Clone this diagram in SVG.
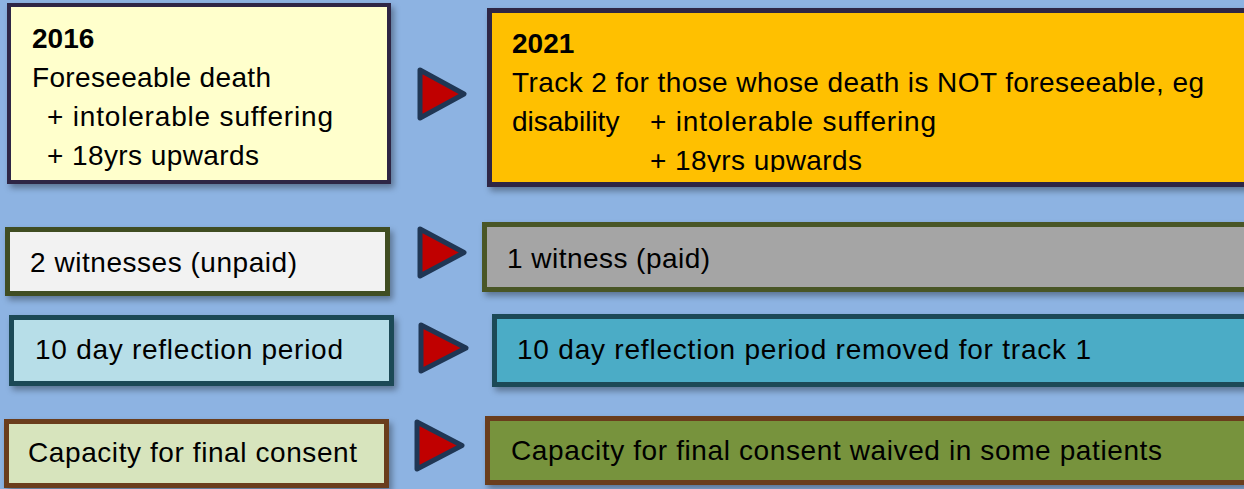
<svg xmlns="http://www.w3.org/2000/svg" width="1244" height="489" viewBox="0 0 1244 489">
<defs>
<filter id="sh" x="-10%" y="-20%" width="130%" height="150%">
<feDropShadow dx="3" dy="4" stdDeviation="3" flood-color="#000" flood-opacity="0.35"/>
</filter>
<clipPath id="clip2021"><rect x="490" y="12" width="760" height="160"/></clipPath>
</defs>
<style>
text{font-family:"Liberation Sans",Arial,sans-serif;font-size:28px;fill:#000}
.b{font-weight:bold}
.box{filter:url(#sh)}
.arrow{fill:#C00000;stroke:#1F3654;stroke-width:5;stroke-linejoin:round}
</style>
<rect x="0" y="0" width="1244" height="489" fill="#8DB3E2"/>

<g id="box-2016">
<rect class="box" x="9" y="5" width="380" height="177" fill="#FFFFCC" stroke="#2F2645" stroke-width="4"/>
<text class="b" x="32" y="48">2016</text>
<text x="32" y="87" textLength="239">Foreseeable death</text>
<text x="47" y="126" textLength="286">+ intolerable suffering</text>
<text x="47" y="165" textLength="212">+ 18yrs upwards</text>
</g>

<g id="box-2021">
<rect class="box" x="489.5" y="10.5" width="800" height="174" fill="#FFC000" stroke="#2F2645" stroke-width="5"/>
<g clip-path="url(#clip2021)">
<text class="b" x="512" y="53">2021</text>
<text x="512" y="92" textLength="692">Track 2 for those whose death is NOT foreseeable, eg</text>
<text x="512" y="131">disability</text>
<text x="650" y="131" textLength="286">+ intolerable suffering</text>
<text x="650" y="170" textLength="212">+ 18yrs upwards</text>
</g>
</g>

<g id="witness-old">
<rect class="box" x="7.5" y="229.5" width="380" height="64" fill="#F2F2F2" stroke="#3F4D23" stroke-width="5"/>
<text x="30" y="272" textLength="267">2 witnesses (unpaid)</text>
</g>

<g id="witness-new">
<rect class="box" x="484.5" y="224.5" width="800" height="65" fill="#A5A5A5" stroke="#4A5728" stroke-width="5"/>
<text x="507" y="268" textLength="203">1 witness (paid)</text>
</g>

<g id="reflection-old">
<rect class="box" x="11.5" y="317.5" width="380" height="66" fill="#B7DEE8" stroke="#1F4A56" stroke-width="5"/>
<text x="35" y="359" textLength="308">10 day reflection period</text>
</g>

<g id="reflection-new">
<rect class="box" x="494.5" y="316.5" width="800" height="68" fill="#4BACC6" stroke="#1F4A56" stroke-width="5"/>
<text x="517" y="359" textLength="574">10 day reflection period removed for track 1</text>
</g>

<g id="capacity-old">
<rect class="box" x="6.5" y="421.5" width="380" height="64" fill="#D7E4BD" stroke="#6B3D1E" stroke-width="5"/>
<text x="28" y="462" textLength="329">Capacity for final consent</text>
</g>

<g id="capacity-new">
<rect class="box" x="487.5" y="418.5" width="800" height="64" fill="#77933C" stroke="#6B3D1E" stroke-width="5"/>
<text x="511" y="460" textLength="651">Capacity for final consent waived in some patients</text>
</g>

<g id="connectors">
<path class="arrow" d="M420,70 L464,94 L420,118 Z"/>
<path class="arrow" d="M420,229 L464,252.5 L420,276 Z"/>
<path class="arrow" d="M421,325 L466,348 L421,371 Z"/>
<path class="arrow" d="M417,422 L462,445.5 L417,469 Z"/>
</g>
</svg>
